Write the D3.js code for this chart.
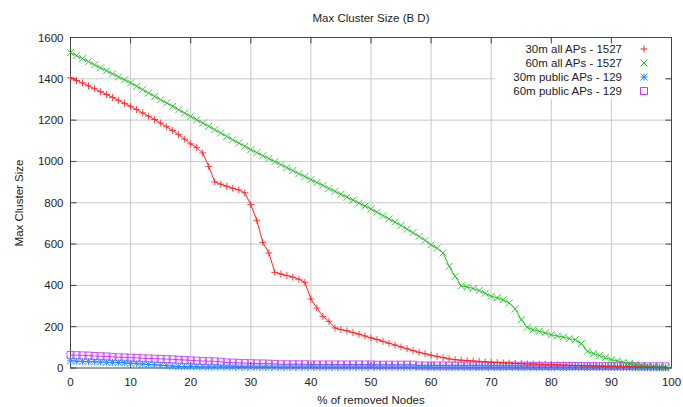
<!DOCTYPE html>
<html><head><meta charset="utf-8">
<script src="https://cdn.jsdelivr.net/npm/d3@7"></script>
<style>body{margin:0;background:#fff}svg{display:block}text{font-family:"Liberation Sans",Arial,sans-serif;fill:#222}</style>
</head><body><svg id="c" width="683" height="407"></svg>
<script>
const title = "Max Cluster Size (B D)";
const xLabel = "% of removed Nodes";
const yLabel = "Max Cluster Size";
const xTicks = [0,10,20,30,40,50,60,70,80,90,100];
const yTicks = [0,200,400,600,800,1000,1200,1400,1600];
const seriesNames = ["30m all APs - 1527","60m all APs - 1527","30m public APs - 129","60m public APs - 129"];
const seriesColors = ["#ff2020","#22c022","#1e88ff","#cc33ff"];
const seriesMarkers = ["plus","cross","star","square"];
const xValues = d3.range(0,100);
const red = [1405,1392,1380,1366,1352,1338,1324,1310,1296,1281,1267,1251,1235,1219,1203,1186,1168,1150,1130,1108,
1085,1068,1041,976,901,890,880,870,862,848,791,715,608,557,463,455,448,440,430,415,
334,290,250,226,194,186,180,172,164,155,146,138,129,120,111,102,93,84,76,69,
62,56,50,44,40,38,36,34,32,30,28,27,25,24,22,21,20,19,18,17,
16,15,14,13,12,11,10,10,9,8,8,7,6,6,5,4,4,3,2,2];
const green = [1527,1512,1498,1483,1468,1453,1439,1424,1409,1395,1380,1364,1348,1331,1315,1299,1283,1267,1250,1234,
1218,1202,1186,1170,1154,1138,1121,1105,1089,1073,1057,1043,1028,1014,999,985,970,956,941,927,
912,898,884,869,855,841,827,813,798,784,770,754,738,722,706,690,672,655,637,618,
597,580,557,492,444,398,392,385,375,362,347,340,330,315,286,234,197,185,178,170,
161,155,150,142,137,118,81,70,60,50,40,35,28,22,18,12,9,6,4,2];
const blue = [35,33,32,31,30,29,28,27,26,25,23,21,19,17,15,13,11,9,8,7,
6,6,5,5,5,5,5,5,4,4,4,4,4,4,4,4,4,4,4,4,
4,4,4,4,4,4,4,4,4,4,4,4,4,4,4,4,4,4,4,4,
3,3,3,3,3,3,3,3,3,3,3,3,3,3,3,3,3,3,3,3,
2,2,2,2,2,2,2,2,2,2,2,2,2,2,1,1,1,1,1,1];
const magenta = [63,62,61,60,58,57,56,54,52,51,50,49,47,46,45,44,43,42,40,39,
37,35,34,33,32,30,27,26,25,24,23,22,22,21,20,18,18,18,18,18,
17,17,17,17,17,17,17,17,17,17,17,16,16,16,16,16,16,16,12,12,
12,12,12,12,12,12,12,12,11,11,11,11,11,11,11,11,11,10,10,10,
10,10,10,10,10,10,10,9,9,9,9,9,9,9,9,8,8,8,8,8];
const allSeries = [red, green, blue, magenta];

const svg = d3.select("#c");
const x = d3.scaleLinear().domain([0,100]).range([70.5,671.5]);
const y = d3.scaleLinear().domain([0,1600]).range([368,37.5]);
const grid = "#c8c8c8", axisCol = "#444";

// grid
svg.append("g").selectAll("line").data(xTicks.slice(1,-1)).join("line")
  .attr("x1",d=>x(d)).attr("x2",d=>x(d)).attr("y1",y(0)).attr("y2",y(1600))
  .attr("stroke",grid).attr("stroke-width",1);
svg.append("g").selectAll("line").data(yTicks.slice(1,-1)).join("line")
  .attr("y1",d=>y(d)).attr("y2",d=>y(d)).attr("x1",x(0)).attr("x2",x(100))
  .attr("stroke",grid).attr("stroke-width",1);

// legend background
svg.append("rect").attr("x",495).attr("y",39).attr("width",171).attr("height",60).attr("fill","#fff");

// axes (ticks inward, mirrored top/right)
const ax = svg.append("g").attr("stroke",axisCol).attr("stroke-width",1).attr("fill","none");
ax.append("rect").attr("x",x(0)).attr("y",y(1600)).attr("width",x(100)-x(0)).attr("height",y(0)-y(1600));
const tl = 6;
xTicks.forEach(t=>{
  ax.append("line").attr("x1",x(t)).attr("x2",x(t)).attr("y1",y(0)).attr("y2",y(0)-tl);
  ax.append("line").attr("x1",x(t)).attr("x2",x(t)).attr("y1",y(1600)).attr("y2",y(1600)+tl);
});
yTicks.forEach(t=>{
  ax.append("line").attr("x1",x(0)).attr("x2",x(0)+tl).attr("y1",y(t)).attr("y2",y(t));
  ax.append("line").attr("x1",x(100)).attr("x2",x(100)-tl).attr("y1",y(t)).attr("y2",y(t));
});
svg.append("g").selectAll("text").data(xTicks).join("text")
  .attr("x",d=>x(d)).attr("y",y(0)+18).attr("text-anchor","middle").attr("font-size",11.5).text(d=>d);
svg.append("g").selectAll("text").data(yTicks).join("text")
  .attr("x",x(0)-7).attr("y",d=>y(d)+4).attr("text-anchor","end").attr("font-size",11.5).text(d=>d);

// labels
svg.append("text").attr("x",(x(0)+x(100))/2).attr("y",22).attr("text-anchor","middle").attr("font-size",11.5).text(title);
svg.append("text").attr("x",(x(0)+x(100))/2).attr("y",404).attr("text-anchor","middle").attr("font-size",11.5).text(xLabel);
svg.append("text").attr("transform","translate(23,203) rotate(-90)").attr("text-anchor","middle").attr("font-size",11.5).text(yLabel);

function marker(g, type, cx, cy, color){
  const s = 3.5;
  const p = g.append("path").attr("stroke",color).attr("stroke-width",1).attr("fill","none");
  if(type==="plus") p.attr("d",`M${cx-s},${cy}H${cx+s}M${cx},${cy-s}V${cy+s}`);
  else if(type==="cross") p.attr("d",`M${cx-s},${cy-s}L${cx+s},${cy+s}M${cx-s},${cy+s}L${cx+s},${cy-s}`);
  else if(type==="star") p.attr("d",`M${cx-s},${cy}H${cx+s}M${cx},${cy-s}V${cy+s}M${cx-s},${cy-s}L${cx+s},${cy+s}M${cx-s},${cy+s}L${cx+s},${cy-s}`);
  else p.attr("d",`M${cx-s},${cy-s}H${cx+s}V${cy+s}H${cx-s}Z`);
}

const line = d3.line().x((d,i)=>x(xValues[i])).y(d=>y(d));
const plot = svg.append("g");
[3,2,1,0].forEach(si=>{
  const vals = allSeries[si];
  plot.append("path").attr("d",line(vals)).attr("fill","none").attr("stroke",seriesColors[si]).attr("stroke-width",1);
  const mg = plot.append("g").attr("opacity",0.85);
  vals.forEach((v,i)=>marker(mg, seriesMarkers[si], x(xValues[i]), y(v), seriesColors[si]));
});

// legend
const lg = svg.append("g");
seriesNames.forEach((n,i)=>{
  const ly = 49 + i*14;
  lg.append("text").attr("x",622).attr("y",ly+4).attr("text-anchor","end").attr("font-size",11.5).text(n);
  marker(lg, seriesMarkers[i], 644, ly, seriesColors[i]);
});
</script></body></html>
